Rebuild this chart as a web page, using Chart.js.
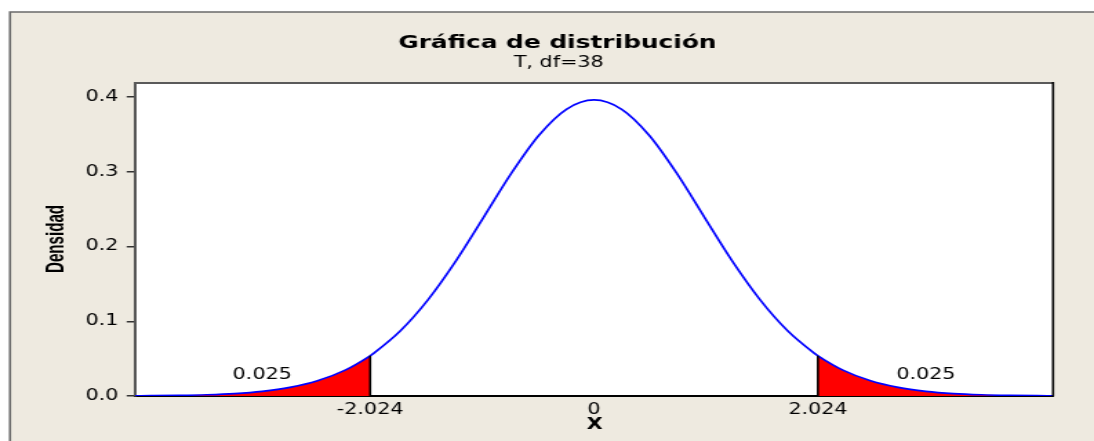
<!DOCTYPE html>
<html>
<head>
<meta charset="utf-8">
<script src="https://cdn.jsdelivr.net/npm/chart.js@4.4.1/dist/chart.umd.min.js"></script>
<style>
  html, body { margin: 0; padding: 0; background: #ffffff; overflow: hidden; }
  #wrap { width: 793px; height: 441px; transform: scaleX(1.3796); transform-origin: 0 0; }
  canvas { display: block; }
</style>
</head>
<body>
<div id="wrap"><canvas id="c" width="793" height="441" style="width:793px;height:441px"></canvas></div>
<script>
// ---- text ----
const titleText = "Gráfica de distribución";
const subtitleText = "T, df=38";
const xAxisTitle = "X";
const yAxisTitle = "Densidad";

// ---- density curve (t, df=38) ----
const curveX = [-4.15, -4.0, -3.75, -3.5, -3.25, -3.0, -2.75, -2.5, -2.25, -2.024, -2.0, -1.75, -1.5, -1.25, -1.0, -0.75, -0.5, -0.25, 0,
                 0.25, 0.5, 0.75, 1.0, 1.25, 1.5, 1.75, 2.0, 2.024, 2.25, 2.5, 2.75, 3.0, 3.25, 3.5, 3.75, 4.0, 4.15];
const curveY = [0.00027, 0.00042, 0.00085, 0.0017, 0.0033, 0.0063, 0.0115, 0.0203, 0.0346, 0.0538, 0.0563, 0.0874, 0.1291, 0.1806, 0.2388, 0.2976, 0.3487, 0.3838, 0.3963,
                0.3838, 0.3487, 0.2976, 0.2388, 0.1806, 0.1291, 0.0874, 0.0563, 0.0538, 0.0346, 0.0203, 0.0115, 0.0063, 0.0033, 0.0017, 0.00085, 0.00042, 0.00027];

// ---- shaded tails ----
const leftTailX = [-4.15, -4.0, -3.75, -3.5, -3.25, -3.0, -2.75, -2.5, -2.25, -2.024];
const leftTailY = [0.00027, 0.00042, 0.00085, 0.0017, 0.0033, 0.0063, 0.0115, 0.0203, 0.0346, 0.0538];
const rightTailX = [2.024, 2.25, 2.5, 2.75, 3.0, 3.25, 3.5, 3.75, 4.0, 4.15];
const rightTailY = [0.0538, 0.0346, 0.0203, 0.0115, 0.0063, 0.0033, 0.0017, 0.00085, 0.00042, 0.00027];

const criticalX = [-2.024, 2.024];
const criticalY = [0.0538, 0.0538];

const tailLabels = ["0.025", "0.025"];
const tailLabelX = [-3.0, 3.0];
const tailLabelY = [0.028, 0.028];

// ---- ticks ----
const xTickValues = [-2.024, 0, 2.024];
const xTickLabels = ["-2.024", "0", "2.024"];
const yTickValues = [0, 0.1, 0.2, 0.3, 0.4];
const yTickLabels = ["0.0", "0.1", "0.2", "0.3", "0.4"];

const xMin = -4.15, xMax = 4.15, yMin = 0, yMax = 0.419;

const pts = (xs, ys) => xs.map((x, i) => ({ x: x, y: ys[i] }));

const decor = {
  id: 'decor',
  beforeDraw(chart) {
    const ctx = chart.ctx, a = chart.chartArea;
    ctx.save();
    ctx.fillStyle = '#ffffff';
    ctx.fillRect(0, 0, chart.width, chart.height);
    ctx.fillStyle = '#EEEAE0';
    ctx.fillRect(7.25, 12, chart.width, chart.height);
    ctx.strokeStyle = '#6a6a6a';
    ctx.beginPath();
    ctx.moveTo(7.25, chart.height); ctx.lineTo(7.25, 12); ctx.lineTo(chart.width, 12);
    ctx.lineWidth = 1.6;
    ctx.stroke();
    ctx.fillStyle = '#ffffff';
    ctx.fillRect(a.left, a.top, a.right - a.left, a.bottom - a.top);
    ctx.restore();
  },
  afterDraw(chart) {
    const ctx = chart.ctx, a = chart.chartArea;
    const xs = chart.scales.x, ys = chart.scales.y;
    ctx.save();
    // frame top / right
    ctx.strokeStyle = '#5a5a5a';
    ctx.lineWidth = 2;
    ctx.beginPath(); ctx.moveTo(a.left, a.top); ctx.lineTo(a.right, a.top); ctx.stroke();
    ctx.strokeStyle = '#000000';
    ctx.lineWidth = 1.6;
    ctx.beginPath(); ctx.moveTo(a.right, a.top - 1); ctx.lineTo(a.right, a.bottom); ctx.stroke();
    // titles
    ctx.fillStyle = '#000000';
    ctx.textAlign = 'center';
    ctx.textBaseline = 'middle';
    ctx.font = 'bold 18px "DejaVu Sans"';
    ctx.fillText(titleText, 404, 43);
    ctx.font = '15px "DejaVu Sans"';
    ctx.fillText(subtitleText, 405, 63);
    // axis titles
    ctx.font = 'bold 15px "DejaVu Sans"';
    ctx.fillText(xAxisTitle, 431, 425);
    ctx.save();
    ctx.translate(41.5, 239);
    ctx.rotate(-Math.PI / 2);
    ctx.scale(0.84, 1);
    ctx.font = 'bold 18px "Liberation Sans", Arial, sans-serif';
    ctx.fillText(yAxisTitle, 0, 0);
    ctx.restore();
    // tail labels
    ctx.font = '15px "DejaVu Sans"';
    tailLabels.forEach((t, i) => {
      ctx.fillText(t, xs.getPixelForValue(tailLabelX[i]), ys.getPixelForValue(tailLabelY[i]));
    });
    ctx.restore();
  }
};

new Chart(document.getElementById('c'), {
  type: 'scatter',
  data: {
    datasets: [
      { data: pts([criticalX[0], criticalX[0]], [0, criticalY[0]]), showLine: true, borderColor: '#000000', borderWidth: 1.6, pointRadius: 0, order: 0 },
      { data: pts([criticalX[1], criticalX[1]], [0, criticalY[1]]), showLine: true, borderColor: '#000000', borderWidth: 1.6, pointRadius: 0, order: 0 },
      { data: pts(curveX, curveY), showLine: true, borderColor: '#0000FF', borderWidth: 1.7, pointRadius: 0, cubicInterpolationMode: 'monotone', order: 1 },
      { data: pts(leftTailX, leftTailY), showLine: true, borderColor: 'rgba(0,0,0,0)', borderWidth: 0, backgroundColor: '#FF0000', fill: 'origin', pointRadius: 0, cubicInterpolationMode: 'monotone', order: 2 },
      { data: pts(rightTailX, rightTailY), showLine: true, borderColor: 'rgba(0,0,0,0)', borderWidth: 0, backgroundColor: '#FF0000', fill: 'origin', pointRadius: 0, cubicInterpolationMode: 'monotone', order: 2 }
    ]
  },
  options: {
    responsive: false,
    animation: false,
    devicePixelRatio: 1,
    layout: { padding: { left: 0, right: 29.7, top: 83, bottom: 0 } },
    plugins: { legend: { display: false }, tooltip: { enabled: false }, title: { display: false } },
    scales: {
      x: {
        type: 'linear', min: xMin, max: xMax,
        afterBuildTicks: s => { s.ticks = xTickValues.map(v => ({ value: v })); },
        afterFit: s => { s.height = 45; },
        grid: { display: true, drawOnChartArea: false, drawTicks: false },
        border: { display: true, color: '#000000', width: 2 },
        ticks: { autoSkip: false, maxRotation: 0, padding: 5, color: '#000000',
                 font: { family: 'DejaVu Sans', size: 15 },
                 callback: (v, i) => xTickLabels[i] }
      },
      y: {
        type: 'linear', min: yMin, max: yMax,
        afterBuildTicks: s => { s.ticks = yTickValues.map(v => ({ value: v })); },
        afterFit: s => { s.width = 97.85; },
        grid: { display: true, drawOnChartArea: false, drawTicks: true, tickLength: 6, color: '#333333', lineWidth: 1.5 },
        border: { display: true, color: '#555555', width: 2 },
        ticks: { padding: 6, color: '#000000', font: { family: 'DejaVu Sans', size: 15 },
                 callback: (v, i) => yTickLabels[i] }
      }
    }
  },
  plugins: [decor]
});
</script>
</body>
</html>
